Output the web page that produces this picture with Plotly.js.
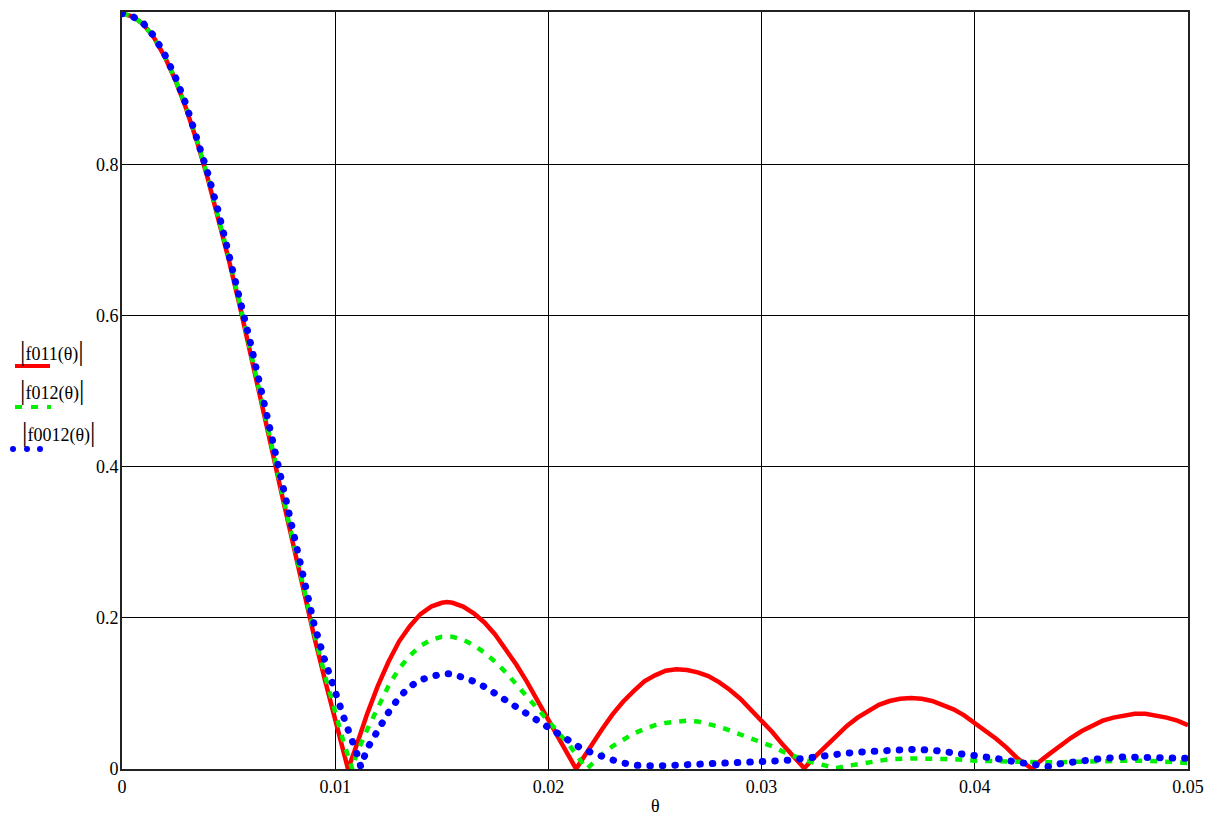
<!DOCTYPE html>
<html>
<head>
<meta charset="utf-8">
<script src="https://cdn.plot.ly/plotly-3.0.1.min.js"></script>
<style>
  html, body { margin: 0; padding: 0; background: #fff; }
  #chart { width: 1217px; height: 816px; }
  .traceblue path.js-line { stroke-linecap: round; }
</style>
</head>
<body>
<div id="chart"></div>
<script>
// ---- data ----
const redX = [0,0.0005,0.001,0.0015,0.002,0.0025,0.003,0.0035,0.004,0.0045,0.005,0.0055,0.006,0.0065,0.007,0.0075,0.008,0.0085,0.009,0.0095,0.010,0.0106,
  0.011,0.0115,0.012,0.0125,0.013,0.0135,0.014,0.0145,0.015,0.01525,0.0155,0.016,0.0165,0.017,0.0175,0.018,0.0185,0.019,0.0195,0.020,0.0205,0.021,0.0213,
  0.0215,0.022,0.0225,0.023,0.0235,0.024,0.0245,0.025,0.0255,0.026,0.0265,0.027,0.0275,0.028,0.0285,0.029,0.0295,0.030,0.0305,0.031,0.0315,0.032,
  0.0325,0.033,0.0335,0.034,0.0345,0.035,0.0355,0.036,0.0365,0.037,0.0375,0.038,0.0385,0.039,0.0395,0.040,0.0405,0.041,0.0415,0.042,0.0427,
  0.043,0.0435,0.044,0.0445,0.045,0.0455,0.046,0.0465,0.047,0.0475,0.048,0.0485,0.049,0.0495,0.050];
const redY = [1.000,0.996,0.986,0.968,0.943,0.912,0.875,0.832,0.784,0.732,0.675,0.616,0.555,0.491,0.427,0.363,0.299,0.237,0.177,0.120,0.066,0.000,
  0.031,0.073,0.110,0.142,0.169,0.189,0.205,0.215,0.220,0.221,0.220,0.215,0.206,0.194,0.178,0.159,0.138,0.115,0.091,0.065,0.040,0.015,0.000,
  0.009,0.031,0.052,0.072,0.089,0.103,0.116,0.124,0.130,0.132,0.131,0.128,0.123,0.115,0.105,0.093,0.079,0.064,0.049,0.032,0.016,0.001,
  0.016,0.030,0.045,0.057,0.068,0.077,0.085,0.090,0.093,0.094,0.093,0.090,0.085,0.079,0.071,0.061,0.051,0.040,0.028,0.014,0.000,
  0.009,0.020,0.031,0.041,0.050,0.057,0.064,0.068,0.071,0.073,0.073,0.071,0.068,0.064,0.058];

const greenX = [0,0.0005,0.001,0.0015,0.002,0.0025,0.003,0.0035,0.004,0.0045,0.005,0.0055,0.006,0.0065,0.007,0.0075,0.008,0.0085,0.009,0.0095,0.010,0.0104,0.0108,
  0.011,0.0115,0.012,0.0125,0.013,0.0135,0.014,0.0145,0.015,0.0155,0.016,0.0165,0.017,0.0175,0.018,0.0185,0.019,0.0195,0.020,0.0205,0.021,0.0218,
  0.022,0.0225,0.023,0.0235,0.024,0.0245,0.025,0.0255,0.026,0.0265,0.027,0.0275,0.028,0.0285,0.029,0.0295,0.030,0.0305,0.031,0.0315,0.032,0.0325,0.033,0.0335,
  0.034,0.035,0.036,0.037,0.038,0.039,0.040,0.041,0.042,0.043,0.044,0.045,0.046,0.047,0.048,0.049,0.050];
const greenY = [1.000,0.996,0.986,0.968,0.944,0.913,0.876,0.834,0.786,0.734,0.678,0.619,0.558,0.495,0.431,0.367,0.303,0.241,0.181,0.126,0.074,0.035,0.000,
  0.020,0.052,0.082,0.110,0.133,0.150,0.163,0.171,0.175,0.175,0.171,0.164,0.154,0.142,0.128,0.112,0.095,0.079,0.063,0.047,0.031,0.000,
  0.006,0.019,0.030,0.039,0.047,0.053,0.058,0.061,0.063,0.064,0.063,0.060,0.056,0.051,0.046,0.041,0.036,0.030,0.023,0.017,0.012,0.008,0.004,0.001,
  0.004,0.009,0.013,0.014,0.014,0.013,0.011,0.010,0.009,0.009,0.009,0.010,0.011,0.011,0.011,0.010,0.008];

const blueX = [0,0.0005,0.001,0.0015,0.002,0.0025,0.003,0.0035,0.004,0.0045,0.005,0.0055,0.006,0.0065,0.007,0.0075,0.008,0.0085,0.009,0.0095,0.010,0.0105,0.011,0.0112,
  0.0115,0.012,0.0125,0.013,0.0135,0.014,0.0145,0.015,0.0155,0.016,0.0165,0.017,0.0175,0.018,0.0185,0.019,0.0195,0.020,0.0205,0.021,0.0215,0.022,0.0225,0.023,0.0235,
  0.024,0.025,0.026,0.027,0.028,0.029,0.030,0.031,0.032,0.033,0.034,0.035,0.036,0.037,0.038,0.039,0.040,0.041,0.042,0.043,0.0435,0.044,0.045,0.046,0.047,0.048,0.049,0.050];
const blueY = [1.000,0.996,0.987,0.970,0.946,0.916,0.880,0.838,0.791,0.740,0.685,0.627,0.567,0.505,0.442,0.378,0.316,0.250,0.193,0.145,0.101,0.060,0.022,0.003,
  0.027,0.053,0.075,0.095,0.109,0.118,0.123,0.126,0.126,0.122,0.116,0.109,0.100,0.091,0.082,0.072,0.063,0.053,0.044,0.035,0.028,0.022,0.016,0.012,0.008,
  0.005,0.004,0.005,0.006,0.007,0.007,0.008,0.011,0.014,0.018,0.021,0.023,0.025,0.026,0.025,0.022,0.018,0.014,0.009,0.004,0.003,0.007,0.011,0.014,0.016,0.016,0.016,0.014];

const xTickVals = [0, 0.01, 0.02, 0.03, 0.04, 0.05];
const xTickText = ['0', '0.01', '0.02', '0.03', '0.04', '0.05'];
const yTickVals = [0, 0.2, 0.4, 0.6, 0.8];
const yTickText = ['0', '0.2', '0.4', '0.6', '0.8'];
const legendLabels = ['f011(θ)', 'f012(θ)', 'f0012(θ)'];
const xTitle = 'θ';

// ---- layout helpers (pixel -> paper) ----
const L = 122, R = 29, T = 12, B = 47, W = 1217, H = 816;
const PW = W - L - R, PH = H - T - B;
const px = v => (v - L) / PW;
const py = v => (H - B - v) / PH;

const serif = 'Times New Roman, Liberation Serif, serif';

const traces = [
  { x: redX, y: redY, mode: 'lines', uid: 'red', line: { color: '#ff0000', width: 4.5 }, hoverinfo: 'skip' },
  { x: greenX, y: greenY, mode: 'lines', uid: 'green', line: { color: '#00f000', width: 4.5, dash: '7px,8px' }, hoverinfo: 'skip' },
  { x: blueX, y: blueY, mode: 'lines', uid: 'blue', line: { color: '#0000ff', width: 7, dash: '0.5px,12px' }, hoverinfo: 'skip' }
];

function legendLabel(t) {
  return '<span style="font-size:27px">|</span>' + t + '<span style="font-size:27px">|</span>';
}

const annFont = { family: serif, size: 18, color: '#000' };
const annotations = [
  { text: legendLabel(legendLabels[0]), x: px(52), y: py(351), xref: 'paper', yref: 'paper', showarrow: false, xanchor: 'center', yanchor: 'middle', font: annFont },
  { text: legendLabel(legendLabels[1]), x: px(52), y: py(390), xref: 'paper', yref: 'paper', showarrow: false, xanchor: 'center', yanchor: 'middle', font: annFont },
  { text: legendLabel(legendLabels[2]), x: px(58), y: py(432), xref: 'paper', yref: 'paper', showarrow: false, xanchor: 'center', yanchor: 'middle', font: annFont },
  { text: xTitle, x: 0.5, y: py(806), xref: 'paper', yref: 'paper', showarrow: false, xanchor: 'center', yanchor: 'middle', font: { family: serif, size: 18, color: '#000' } }
];

const shapes = [
  { type: 'line', xref: 'paper', yref: 'paper', x0: px(15), x1: px(50), y0: py(366), y1: py(366), line: { color: '#ff0000', width: 4 } },
  { type: 'line', xref: 'paper', yref: 'paper', x0: px(15), x1: px(51), y0: py(407), y1: py(407), line: { color: '#00f000', width: 4, dash: '7px,9px' } },
  { type: 'circle', xref: 'paper', yref: 'paper', x0: px(10), x1: px(16), y0: py(446), y1: py(452), fillcolor: '#0000ff', line: { width: 0 } },
  { type: 'circle', xref: 'paper', yref: 'paper', x0: px(24), x1: px(30), y0: py(446), y1: py(452), fillcolor: '#0000ff', line: { width: 0 } },
  { type: 'circle', xref: 'paper', yref: 'paper', x0: px(37), x1: px(43), y0: py(446), y1: py(452), fillcolor: '#0000ff', line: { width: 0 } }
];

const layout = {
  width: W, height: H,
  margin: { l: L, r: R, t: T, b: B, pad: 0 },
  paper_bgcolor: '#fff', plot_bgcolor: '#fff',
  showlegend: false,
  font: { family: serif, size: 18, color: '#000' },
  xaxis: {
    range: [0, 0.05], tickvals: xTickVals, ticktext: xTickText,
    showgrid: true, gridcolor: '#000', gridwidth: 1,
    zeroline: false, showline: true, linecolor: '#222', linewidth: 2, mirror: true,
    ticks: '', tickfont: { family: serif, size: 18, color: '#000' }, fixedrange: true
  },
  yaxis: {
    range: [0, 1.002], tickvals: yTickVals, ticktext: yTickText,
    showgrid: true, gridcolor: '#000', gridwidth: 1,
    zeroline: false, showline: true, linecolor: '#222', linewidth: 2, mirror: true,
    ticks: '', ticklabelstandoff: -2,
    tickfont: { family: serif, size: 18, color: '#000' }, fixedrange: true
  },
  annotations: annotations,
  shapes: shapes
};

Plotly.newPlot('chart', traces, layout, { displayModeBar: false, staticPlot: true });
</script>
</body>
</html>
